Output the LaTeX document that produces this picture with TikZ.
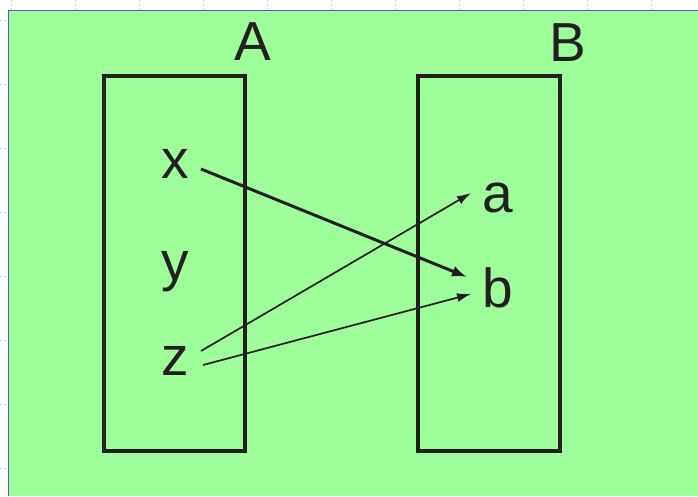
\documentclass[tikz,border=0pt]{standalone}
\usepackage{fontspec}
\setmainfont{Liberation Sans}
\usetikzlibrary{arrows.meta,calc}
\definecolor{bggreen}{RGB}{158,255,154}
\definecolor{ink}{RGB}{35,31,32}
\definecolor{frameblue}{RGB}{90,92,170}
\definecolor{gridblue}{RGB}{200,210,245}
\tikzset{
  setbox/.style={draw=ink,line width=4pt},
  lbl/.style={anchor=base,inner sep=0pt,text=ink,font=\fontsize{55}{60}\selectfont},
  thickarrow/.style={draw=ink,line width=3pt,-{Latex[length=15pt,width=11pt]}},
  thinarrow/.style={draw=ink,line width=1.7pt,-{Latex[length=14pt,width=9pt]}},
  gridtick/.style={draw=gridblue,line width=0.8pt,dash pattern=on 2pt off 2pt}
}
\begin{document}
\begin{tikzpicture}[x=1pt,y=-1pt]
\useasboundingbox (0,0) rectangle (698,496);
\fill[white] (0,0) rectangle (698,496);
% faint grid ticks in margin
\foreach \i in {0,...,10} \draw[gridtick] ({11+64*\i},0) -- ({11+64*\i},10);
\foreach \j in {0,...,7} \draw[gridtick] (0,{20+64*\j}) -- (8,{20+64*\j});
% background panel
\fill[bggreen] (8,10) rectangle (698,496);
\draw[frameblue,line width=1.5pt] (8.5,496) -- (8.5,10.5) -- (698,10.5);
% sets
\node[setbox,minimum width=141pt,minimum height=375pt,inner sep=0pt] (setA) at (174.5,263.5) {};
\node[setbox,minimum width=142pt,minimum height=375pt,inner sep=0pt] (setB) at (489,263.5) {};
\node[lbl] (A) at (253,60) {A};
\node[lbl] (B) at (568,61) {B};
% elements
\node[lbl] (x) at (175,178) {x};
\node[lbl] (y) at (175,280) {y};
\node[lbl] (z) at (175,375) {z};
\node[lbl] (a) at (498,212) {a};
\node[lbl] (b) at (497.5,307) {b};
% mappings
\draw[thickarrow] ($(x.base)+(26,-9)$) -- ($(b.base)+(-30.5,-30)$);
\draw[thinarrow] ($(z.base)+(26,-24)$) -- ($(a.base)+(-27,-19)$);
\draw[thinarrow] ($(z.base)+(28,-10)$) -- ($(b.base)+(-26.5,-13)$);
\end{tikzpicture}
\end{document}
